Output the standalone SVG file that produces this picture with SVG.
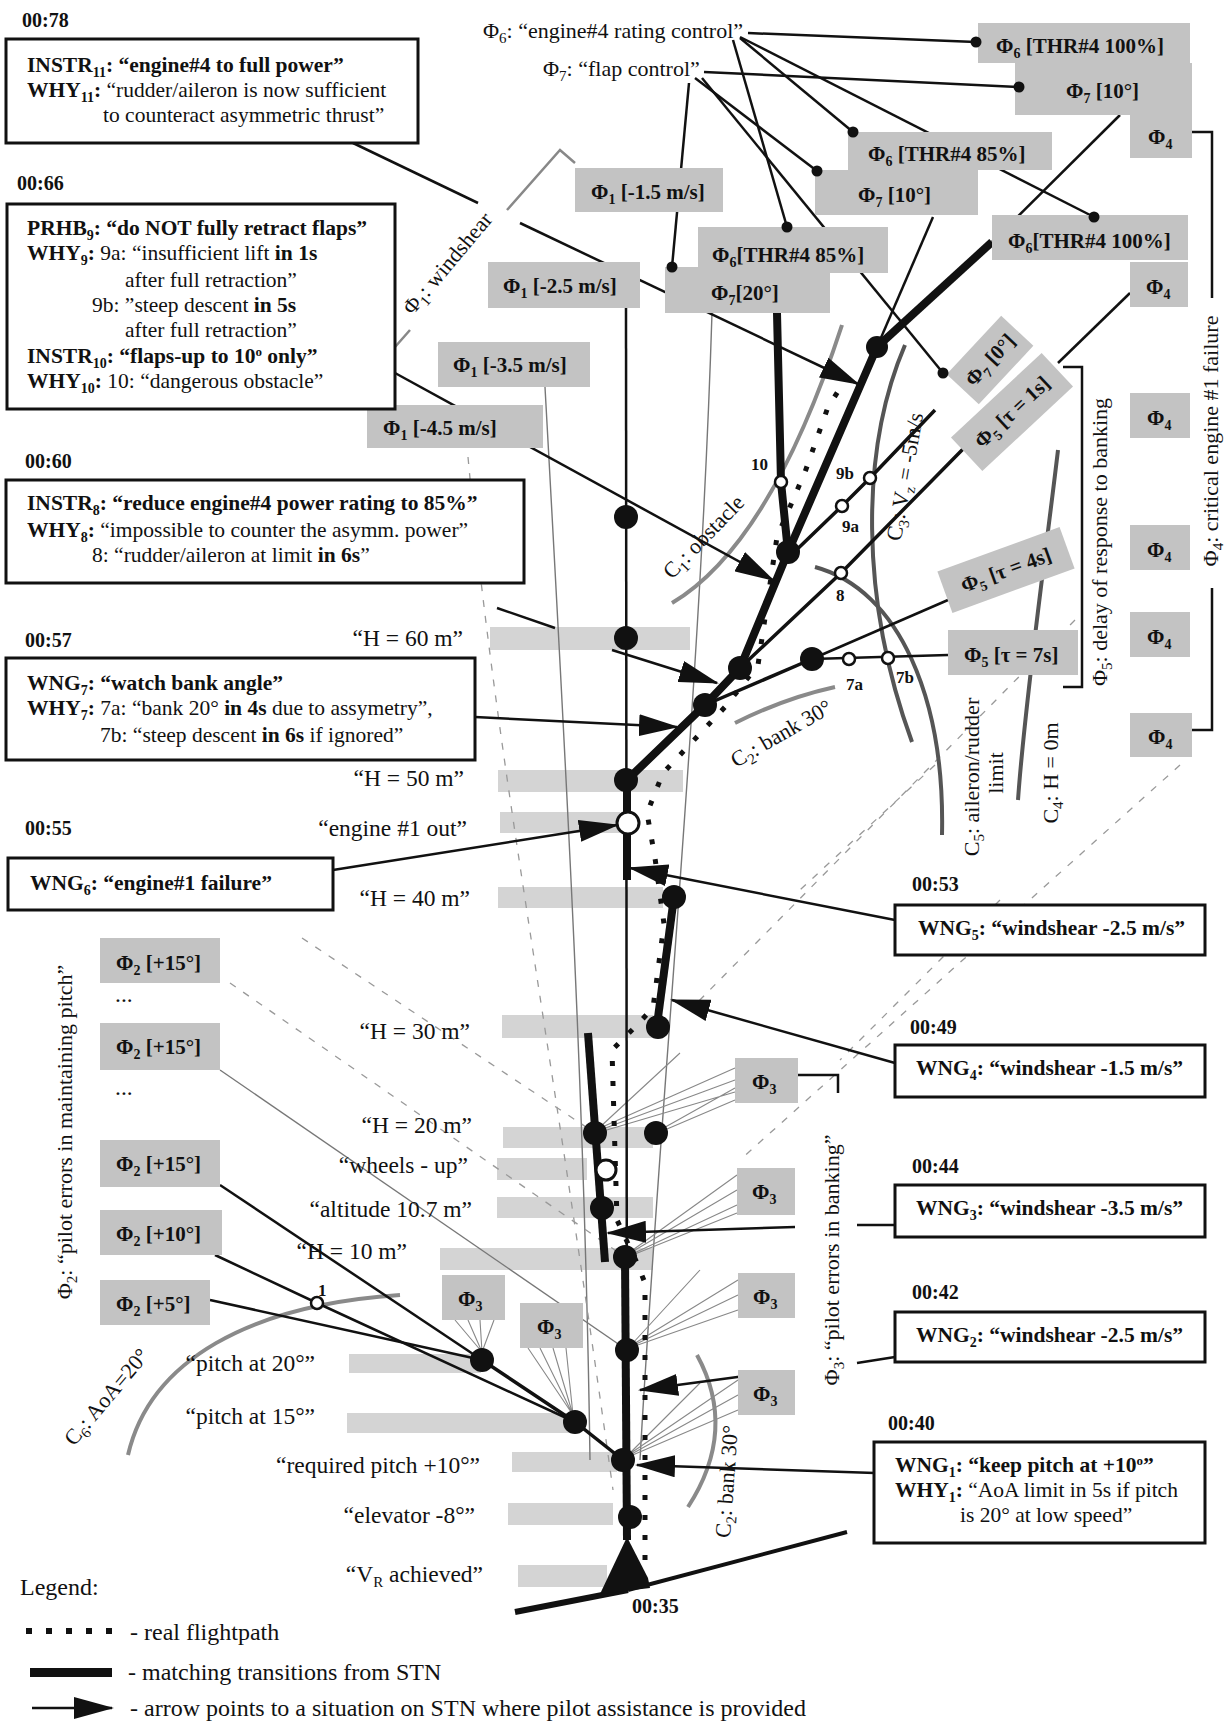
<svg xmlns="http://www.w3.org/2000/svg" width="1225" height="1722" viewBox="0 0 1225 1722">
<style>
.t{font-family:"Liberation Serif","Times New Roman",serif;font-size:21.5px;fill:#111}
.b{font-weight:bold}
.st{font-family:"Liberation Serif","Times New Roman",serif;font-size:23.5px;fill:#111}
.fl{font-family:"Liberation Serif","Times New Roman",serif;font-size:22px;fill:#111}
.lg{font-family:"Liberation Serif","Times New Roman",serif;font-size:24px;fill:#111}
.tm{font-family:"Liberation Serif","Times New Roman",serif;font-size:20px;font-weight:bold;fill:#111}
.gl{font-family:"Liberation Serif","Times New Roman",serif;font-size:21px;font-weight:bold;fill:#111}
.sm{font-family:"Liberation Serif","Times New Roman",serif;font-size:17px;font-weight:bold;fill:#111}
.g{fill:#c3c3c3}
.bar{fill:#d4d4d4}
.box{fill:#fff;stroke:#111;stroke-width:3}
.ln{stroke:#111;stroke-width:2.5;fill:none}
.ln3{stroke:#111;stroke-width:3.5;fill:none}
.thk{stroke:#111;stroke-width:8;fill:none}
.thin{stroke:#777;stroke-width:1.4;fill:none}
.fan{stroke:#888;stroke-width:1.1;fill:none}
.dash{stroke:#999;stroke-width:1.3;fill:none;stroke-dasharray:7 9}
.crv{stroke:#8a8a8a;stroke-width:4;fill:none}
.crvd{stroke:#555;stroke-width:4;fill:none}
.fp{stroke:#111;stroke-width:5;fill:none;stroke-dasharray:5 15}
.nd{fill:#111}
.wn{fill:#fff;stroke:#111;stroke-width:3}
.wn2{fill:#fff;stroke:#111;stroke-width:2.5}
</style>
<defs>
<marker id="ah" viewBox="0 0 40 22" refX="38" refY="11" markerWidth="40" markerHeight="22" markerUnits="userSpaceOnUse" orient="auto"><path d="M0,0 L40,11 L0,22 z" fill="#111"/></marker>
</defs>
<rect width="1225" height="1722" fill="#fff"/>

<!-- label bars -->
<g id="bars">
<rect class="bar" x="490" y="627" width="200" height="23"/>
<rect class="bar" x="498" y="770" width="185" height="22"/>
<rect class="bar" x="500" y="812" width="120" height="21"/>
<rect class="bar" x="498" y="887" width="165" height="21"/>
<rect class="bar" x="502" y="1015" width="151" height="23"/>
<rect class="bar" x="503" y="1127" width="150" height="21"/>
<rect class="bar" x="497" y="1158" width="90" height="22"/>
<rect class="bar" x="497" y="1197" width="156" height="21"/>
<rect class="bar" x="440" y="1248" width="213" height="22"/>
<rect class="bar" x="349" y="1354" width="132" height="19"/>
<rect class="bar" x="347" y="1413" width="226" height="20"/>
<rect class="bar" x="512" y="1452" width="105" height="20"/>
<rect class="bar" x="508" y="1503" width="105" height="22"/>
<rect class="bar" x="518" y="1565" width="89" height="22"/>
</g>

<!-- faint envelope lines -->
<g id="faint">
<path class="thin" d="M545,387 C565,750 585,1100 590,1460"/>
<path class="thin" d="M712,313 C700,700 660,1100 640,1460"/>
<path class="dash" d="M468,457 C495,750 545,1000 613,1490"/>
<path class="dash" d="M302,938 L595,1133"/>
<path class="dash" d="M230,983 L625,1257"/>
<path class="dash" d="M1180,765 L740,1160"/>
<path class="dash" d="M1075,620 L690,1010"/>
<path class="dash" d="M935,765 L800,890"/>
<path class="dash" d="M1000,900 L840,1060"/>
<path class="thin" d="M220,1070 L627,1350"/>
<path class="fan" d="M735,1068 L600,1128 M735,1080 L600,1130 M735,1092 L600,1132 M680,1053 L600,1127 M735,1088 L660,1130 M735,1100 L660,1132"/>
<path class="fan" d="M737,1175 L630,1252 M737,1190 L630,1253 M737,1205 L630,1255 M737,1213 L630,1256"/>
<path class="fan" d="M738,1280 L632,1345 M738,1295 L632,1346 M738,1310 L632,1347 M700,1270 L632,1344"/>
<path class="fan" d="M738,1380 L628,1455 M738,1395 L628,1456 M738,1410 L628,1457 M700,1383 L628,1455"/>
<path class="fan" d="M455,1320 L482,1352 M468,1320 L482,1352 M480,1320 L482,1352 M494,1320 L482,1352"/>
<path class="fan" d="M528,1348 L573,1415 M540,1348 L573,1415 M553,1348 L573,1415 M566,1348 L573,1415"/>
</g>

<!-- constraint curves -->
<g id="curves">
<path class="crv" stroke="#a0a0a0" d="M672,603 Q770,545 842,325"/>
<path class="crv" d="M735,723 Q785,698 835,687"/>
<path class="crvd" d="M905,345 C860,450 860,600 912,742"/>
<path class="crvd" d="M815,567 C900,590 945,700 942,835"/>
<path class="crvd" d="M1058,450 C1045,560 1025,700 1018,800"/>
<path class="crv" stroke-width="5" d="M128,1455 C150,1360 250,1305 400,1295"/>
<path class="crv" d="M697,1355 Q738,1430 688,1507"/>
</g>

<!-- connectors -->
<g id="connectors">
<path class="ln" d="M748,33 L976,42"/>
<path class="ln" d="M740,38 L853,132"/>
<path class="ln" d="M733,40 L787,227"/>
<path class="ln" d="M740,37 L1094,217"/>
<path class="ln" d="M704,72 L1019,87"/>
<path class="ln" d="M695,78 L817,171"/>
<path class="ln" d="M689,83 L672,267"/>
<path class="ln" d="M702,78 L943,373"/>
<path stroke="#888" stroke-width="2.5" fill="none" d="M395,347 L410,330 M507,210 L560,150 L575,163"/>
<path class="ln" d="M353,143 L478,203"/>
<path class="ln" marker-end="url(#ah)" d="M520,223 L858,384"/>
<path class="ln" marker-end="url(#ah)" d="M395,373 L773,580"/>
<path class="ln" d="M497,608 L555,628"/>
<path class="ln" marker-end="url(#ah)" d="M612,650 L717,683"/>
<path class="ln" marker-end="url(#ah)" d="M475,717 L677,727"/>
<path class="ln" marker-end="url(#ah)" d="M333,870 L617,825"/>
<path class="ln" marker-end="url(#ah)" d="M895,920 L630,868"/>
<path class="ln" marker-end="url(#ah)" d="M895,1063 L672,1000"/>
<path class="ln" d="M895,1225 L857,1225"/>
<path class="ln" marker-end="url(#ah)" d="M795,1227 L608,1233"/>
<path class="ln" d="M895,1357 L857,1363"/>
<path class="ln" marker-end="url(#ah)" d="M760,1374 L640,1390"/>
<path class="ln" marker-end="url(#ah)" d="M875,1473 L637,1465"/>
<path class="ln" d="M210,1300 L482,1360"/>
<path class="ln" d="M215,1255 L317,1303 L575,1422"/>
<path class="ln" d="M220,1185 L482,1360"/>
<path class="ln3" d="M482,1360 L575,1422 L623,1460"/>
<path class="ln" d="M626,308 L627,1540"/>
<path class="ln3" d="M705,705 L812,659"/>
<path class="ln3" d="M740,668 L841,573 L965,447"/>
<path class="ln3" d="M786,560 L842,506 L870,478 L935,410"/>
<path class="ln" stroke-width="5" d="M812,659 L948,600"/>
<path class="ln" stroke-width="4" d="M812,659 L948,655"/>
<path class="ln" stroke-width="3" d="M933,217 L877,347"/>
<path class="ln" stroke-width="4" d="M1130,293 L1058,363"/>
<path class="ln" stroke-width="4" d="M992,242 L1120,115"/>
<path class="ln" d="M1192,132 L1212,132 L1212,298 M1212,588 L1212,730 L1192,730"/>
<path class="ln" d="M1063,367 L1082,367 L1082,687 L1063,687"/>
<path class="ln" d="M798,1075 L838,1075 L838,1093"/>
<path stroke="#111" stroke-width="6" fill="none" d="M515,1612 L628,1590"/>
<path stroke="#111" stroke-width="4" fill="none" d="M628,1590 L847,1532"/>
<path class="nd" d="M627,1537 L648,1578 L650,1588 L600,1594 z"/>
</g>

<!-- matching transitions (thick) -->
<g id="stn-path">
<path class="thk" d="M627,1540 L625,1257"/>
<path class="thk" d="M605,1262 L588,1033"/>
<path class="thk" d="M657,1025 L674,897"/>
<path class="thk" d="M627,880 L627,780"/>
<path class="thk" stroke-width="9" d="M627,780 L705,705 L740,668 L788,552 L877,347"/>
<path class="thk" stroke-width="12" d="M877,347 L992,242"/>
<path class="thk" stroke-width="6" d="M777,313 L781,482 L788,552"/>
</g>

<!-- real flightpath -->
<path class="fp" id="flightpath" d="M645,1560 L645,1283 L637,1263 L617,1220 L612,1050 L632,1030 L653,1008 L664,924 L655,858 L647,813 L663,773 L725,707 L758,665 L777,537 L805,472 L828,407 L855,365"/>

<!-- gray factor boxes -->
<g id="phi-boxes">
<g id="p6a"><rect class="g" x="978" y="23" width="212" height="40"/><text class="gl" x="996" y="53">Φ<tspan font-size="14" dy="5">6</tspan><tspan dy="-5"> [THR#4  100%]</tspan></text></g>
<g id="p7a"><rect class="g" x="1015" y="63" width="177" height="52"/><text class="gl" x="1066" y="98">Φ<tspan font-size="14" dy="5">7</tspan><tspan dy="-5"> [10°]</tspan></text></g>
<g id="p4a"><rect class="g" x="1130" y="113" width="62" height="45"/><text class="gl" x="1148" y="144">Φ<tspan font-size="14" dy="5">4</tspan></text></g>
<g id="p6b"><rect class="g" x="848" y="132" width="204" height="38"/><text class="gl" x="868" y="161">Φ<tspan font-size="14" dy="5">6</tspan><tspan dy="-5"> [THR#4  85%]</tspan></text></g>
<g id="p7b"><rect class="g" x="815" y="170" width="163" height="45"/><text class="gl" x="858" y="202">Φ<tspan font-size="14" dy="5">7</tspan><tspan dy="-5"> [10°]</tspan></text></g>
<g id="p1a"><rect class="g" x="575" y="168" width="148" height="44"/><text class="gl" x="591" y="199">Φ<tspan font-size="14" dy="5">1</tspan><tspan dy="-5"> [-1.5 m/s]</tspan></text></g>
<g id="p6c"><rect class="g" x="698" y="227" width="190" height="46"/><text class="gl" x="712" y="262">Φ<tspan font-size="14" dy="5">6</tspan><tspan dy="-5">[THR#4  85%]</tspan></text></g>
<g id="p7c"><rect class="g" x="665" y="267" width="165" height="46"/><text class="gl" x="711" y="300">Φ<tspan font-size="14" dy="5">7</tspan><tspan dy="-5">[20°]</tspan></text></g>
<g id="p6d"><rect class="g" x="992" y="215" width="196" height="45"/><text class="gl" x="1008" y="248">Φ<tspan font-size="14" dy="5">6</tspan><tspan dy="-5">[THR#4 100%]</tspan></text></g>
<g id="p4b"><rect class="g" x="1130" y="262" width="58" height="45"/><text class="gl" x="1146" y="294">Φ<tspan font-size="14" dy="5">4</tspan></text></g>
<g id="p1b"><rect class="g" x="488" y="262" width="152" height="46"/><text class="gl" x="503" y="293">Φ<tspan font-size="14" dy="5">1</tspan><tspan dy="-5"> [-2.5 m/s]</tspan></text></g>
<g id="p1c"><rect class="g" x="438" y="342" width="152" height="45"/><text class="gl" x="453" y="372">Φ<tspan font-size="14" dy="5">1</tspan><tspan dy="-5"> [-3.5 m/s]</tspan></text></g>
<g id="p1d"><rect class="g" x="367" y="405" width="176" height="43"/><text class="gl" x="383" y="435">Φ<tspan font-size="14" dy="5">1</tspan><tspan dy="-5"> [-4.5 m/s]</tspan></text></g>
<g id="p7d" transform="translate(990,360) rotate(-47)"><rect class="g" x="-40" y="-22" width="80" height="44"/><text class="gl" x="0" y="7" text-anchor="middle">Φ<tspan font-size="14" dy="5">7</tspan><tspan dy="-5"> [0°]</tspan></text></g>
<g id="p5a" transform="translate(1012,412) rotate(-43)"><rect class="g" x="-62" y="-23" width="124" height="46"/><text class="gl" x="0" y="7" text-anchor="middle">Φ<tspan font-size="14" dy="5">5</tspan><tspan dy="-5"> [τ = 1s]</tspan></text></g>
<g id="p4c"><rect class="g" x="1130" y="393" width="60" height="45"/><text class="gl" x="1147" y="425">Φ<tspan font-size="14" dy="5">4</tspan></text></g>
<g id="p5b" transform="translate(1006,570) rotate(-20)"><rect class="g" x="-65" y="-22" width="130" height="44"/><text class="gl" x="0" y="7" text-anchor="middle">Φ<tspan font-size="14" dy="5">5</tspan><tspan dy="-5"> [τ = 4s]</tspan></text></g>
<g id="p4d"><rect class="g" x="1130" y="525" width="60" height="45"/><text class="gl" x="1147" y="557">Φ<tspan font-size="14" dy="5">4</tspan></text></g>
<g id="p5c"><rect class="g" x="948" y="630" width="130" height="45"/><text class="gl" x="964" y="662">Φ<tspan font-size="14" dy="5">5</tspan><tspan dy="-5"> [τ = 7s]</tspan></text></g>
<g id="p4e"><rect class="g" x="1130" y="612" width="60" height="45"/><text class="gl" x="1147" y="644">Φ<tspan font-size="14" dy="5">4</tspan></text></g>
<g id="p4f"><rect class="g" x="1130" y="713" width="62" height="44"/><text class="gl" x="1148" y="744">Φ<tspan font-size="14" dy="5">4</tspan></text></g>
<g id="p2a"><rect class="g" x="100" y="938" width="120" height="45"/><text class="gl" x="116" y="970">Φ<tspan font-size="14" dy="5">2</tspan><tspan dy="-5"> [+15°]</tspan></text></g>
<g id="p2b"><rect class="g" x="100" y="1023" width="120" height="47"/><text class="gl" x="116" y="1054">Φ<tspan font-size="14" dy="5">2</tspan><tspan dy="-5"> [+15°]</tspan></text></g>
<g id="p2c"><rect class="g" x="100" y="1140" width="120" height="47"/><text class="gl" x="116" y="1171">Φ<tspan font-size="14" dy="5">2</tspan><tspan dy="-5"> [+15°]</tspan></text></g>
<g id="p2d"><rect class="g" x="100" y="1210" width="122" height="45"/><text class="gl" x="116" y="1241">Φ<tspan font-size="14" dy="5">2</tspan><tspan dy="-5"> [+10°]</tspan></text></g>
<g id="p2e"><rect class="g" x="100" y="1280" width="110" height="45"/><text class="gl" x="116" y="1311">Φ<tspan font-size="14" dy="5">2</tspan><tspan dy="-5"> [+5°]</tspan></text></g>
<g id="p3a"><rect class="g" x="735" y="1058" width="63" height="45"/><text class="gl" x="752" y="1089">Φ<tspan font-size="14" dy="5">3</tspan></text></g>
<g id="p3b"><rect class="g" x="737" y="1168" width="58" height="47"/><text class="gl" x="752" y="1199">Φ<tspan font-size="14" dy="5">3</tspan></text></g>
<g id="p3c"><rect class="g" x="738" y="1273" width="57" height="45"/><text class="gl" x="753" y="1304">Φ<tspan font-size="14" dy="5">3</tspan></text></g>
<g id="p3d"><rect class="g" x="738" y="1370" width="57" height="45"/><text class="gl" x="753" y="1401">Φ<tspan font-size="14" dy="5">3</tspan></text></g>
<g id="p3e"><rect class="g" x="442" y="1275" width="63" height="45"/><text class="gl" x="458" y="1306">Φ<tspan font-size="14" dy="5">3</tspan></text></g>
<g id="p3f"><rect class="g" x="520" y="1303" width="63" height="45"/><text class="gl" x="537" y="1334">Φ<tspan font-size="14" dy="5">3</tspan></text></g>
</g>

<!-- selector dots -->
<g id="sel-dots" class="nd">
<circle cx="976" cy="42" r="5.5"/><circle cx="853" cy="132" r="5.5"/><circle cx="787" cy="227" r="5.5"/><circle cx="1094" cy="217" r="5.5"/>
<circle cx="1019" cy="87" r="5.5"/><circle cx="817" cy="171" r="5.5"/><circle cx="672" cy="267" r="5.5"/><circle cx="943" cy="373" r="5.5"/>
</g>

<!-- STN nodes -->
<g id="nodes">
<circle class="nd" cx="626" cy="517" r="12"/>
<circle class="nd" cx="626" cy="638" r="12"/>
<circle class="nd" cx="626" cy="780" r="12"/>
<circle class="nd" cx="705" cy="705" r="12"/>
<circle class="nd" cx="740" cy="668" r="12"/>
<circle class="nd" cx="788" cy="552" r="12"/>
<circle class="nd" cx="877" cy="347" r="11"/>
<circle class="nd" cx="812" cy="659" r="12"/>
<circle class="nd" cx="674" cy="897" r="12"/>
<circle class="nd" cx="658" cy="1027" r="12"/>
<circle class="nd" cx="656" cy="1133" r="12"/>
<circle class="nd" cx="595" cy="1133" r="12"/>
<circle class="nd" cx="602" cy="1208" r="12"/>
<circle class="nd" cx="625" cy="1257" r="12"/>
<circle class="nd" cx="627" cy="1350" r="12"/>
<circle class="nd" cx="623" cy="1460" r="12"/>
<circle class="nd" cx="630" cy="1517" r="12"/>
<circle class="nd" cx="482" cy="1360" r="12"/>
<circle class="nd" cx="575" cy="1422" r="12"/>
<circle class="wn" cx="628" cy="823" r="11"/>
<circle class="wn" cx="606" cy="1170" r="10"/>
<circle class="wn2" cx="781" cy="482" r="6"/>
<circle class="wn2" cx="842" cy="506" r="6"/>
<circle class="wn2" cx="870" cy="478" r="6"/>
<circle class="wn2" cx="841" cy="573" r="6"/>
<circle class="wn2" cx="849" cy="659" r="6"/>
<circle class="wn2" cx="888" cy="658" r="6"/>
<circle class="wn2" cx="317" cy="1303" r="6"/>
<text class="sm" x="751" y="470">10</text>
<text class="sm" x="836" y="479">9b</text>
<text class="sm" x="842" y="532">9a</text>
<text class="sm" x="836" y="601">8</text>
<text class="sm" x="846" y="690">7a</text>
<text class="sm" x="896" y="683">7b</text>
<text class="sm" x="318" y="1296">1</text>
</g>

<!-- altitude / state labels -->
<g id="state-labels" class="st" text-anchor="end">
<text x="463" y="646">“H = 60 m”</text>
<text x="464" y="786">“H = 50 m”</text>
<text x="467" y="836">“engine #1 out”</text>
<text x="470" y="906">“H = 40 m”</text>
<text x="470" y="1039">“H = 30 m”</text>
<text x="472" y="1133">“H = 20 m”</text>
<text x="468" y="1173">“wheels - up”</text>
<text x="472" y="1217">“altitude 10.7 m”</text>
<text x="407" y="1259">“H = 10 m”</text>
<text x="315" y="1371">“pitch at 20°”</text>
<text x="315" y="1424">“pitch at 15°”</text>
<text x="480" y="1473">“required pitch +10°”</text>
<text x="475" y="1523">“elevator  -8°”</text>
<text x="483" y="1582">“V<tspan font-size="15" dy="5">R</tspan><tspan dy="-5"> achieved”</tspan></text>
</g>
<g class="st"><text x="115" y="1002">...</text><text x="115" y="1095">...</text></g>

<!-- factor and constraint labels -->
<g id="factor-labels" class="fl">
<text x="483" y="38">Φ<tspan font-size="15" dy="5">6</tspan><tspan dy="-5">:  “engine#4 rating control”</tspan></text>
<text x="543" y="76">Φ<tspan font-size="15" dy="5">7</tspan><tspan dy="-5">:  “flap control”</tspan></text>
<text transform="translate(453,268) rotate(-50)" text-anchor="middle">Φ<tspan font-size="15" dy="5">1</tspan><tspan dy="-5">: windshear</tspan></text>
<text transform="translate(672,580) rotate(-46)">C<tspan font-size="15" dy="5">1</tspan><tspan dy="-5">: obstacle</tspan></text>
<text transform="translate(736,768) rotate(-30)">C<tspan font-size="15" dy="5">2</tspan><tspan dy="-5">: bank 30°</tspan></text>
<text transform="translate(912,478) rotate(-80)" text-anchor="middle">C<tspan font-size="15" dy="5">3</tspan><tspan dy="-5">: V</tspan><tspan font-size="15" dy="5">z</tspan><tspan dy="-5"> = -5m/s</tspan></text>
<text transform="translate(979,777) rotate(-90)" text-anchor="middle">C<tspan font-size="15" dy="5">5</tspan><tspan dy="-5">: aileron/rudder</tspan></text>
<text transform="translate(1003,773) rotate(-90)" text-anchor="middle">limit</text>
<text transform="translate(1058,773) rotate(-90)" text-anchor="middle">C<tspan font-size="15" dy="5">4</tspan><tspan dy="-5">: H = 0m</tspan></text>
<text transform="translate(74,1447) rotate(-50)">C<tspan font-size="15" dy="5">6</tspan><tspan dy="-5">: AoA=20°</tspan></text>
<text transform="translate(734,1482) rotate(-86)" text-anchor="middle">C<tspan font-size="15" dy="5">2</tspan><tspan dy="-5">: bank 30°</tspan></text>
<text transform="translate(72,1132) rotate(-90)" text-anchor="middle">Φ<tspan font-size="15" dy="5">2</tspan><tspan dy="-5">:  “pilot errors in maintaining pitch”</tspan></text>
<text transform="translate(839,1260) rotate(-90)" text-anchor="middle">Φ<tspan font-size="15" dy="5">3</tspan><tspan dy="-5">: “pilot errors in banking”</tspan></text>
<text transform="translate(1218,441) rotate(-90)" text-anchor="middle">Φ<tspan font-size="15" dy="5">4</tspan><tspan dy="-5">: critical  engine #1 failure</tspan></text>
<text transform="translate(1107,542) rotate(-90)" text-anchor="middle">Φ<tspan font-size="15" dy="5">5</tspan><tspan dy="-5">: delay of response to banking</tspan></text>
</g>

<!-- time stamps -->
<g id="times" class="tm">
<text x="22" y="27">00:78</text>
<text x="17" y="190">00:66</text>
<text x="25" y="468">00:60</text>
<text x="25" y="647">00:57</text>
<text x="25" y="835">00:55</text>
<text x="912" y="891">00:53</text>
<text x="910" y="1034">00:49</text>
<text x="912" y="1173">00:44</text>
<text x="912" y="1299">00:42</text>
<text x="888" y="1430">00:40</text>
<text x="632" y="1613">00:35</text>
</g>

<!-- advice boxes -->
<g id="box11"><rect class="box" x="6" y="39" width="412" height="104"/>
<text class="t b" x="27" y="72">INSTR<tspan font-size="14" dy="5">11</tspan><tspan dy="-5">: “engine#4 to full power”</tspan></text>
<text class="t" x="27" y="97"><tspan font-weight="bold">WHY<tspan font-size="14" dy="5">11</tspan><tspan dy="-5">:</tspan></tspan>  “rudder/aileron is now sufficient</text>
<text class="t" x="103" y="122">to counteract asymmetric thrust”</text>
</g>
<g id="box9"><rect class="box" x="7" y="204" width="388" height="205"/>
<text class="t b" x="27" y="235">PRHB<tspan font-size="14" dy="5">9</tspan><tspan dy="-5">: “do NOT fully retract flaps”</tspan></text>
<text class="t" x="27" y="260"><tspan font-weight="bold">WHY<tspan font-size="14" dy="5">9</tspan><tspan dy="-5">:</tspan></tspan> 9a: “insufficient lift <tspan font-weight="bold">in 1s</tspan></text>
<text class="t" x="125" y="287">after full retraction”</text>
<text class="t" x="92" y="312">9b: ”steep descent <tspan font-weight="bold">in 5s</tspan></text>
<text class="t" x="125" y="337">after full retraction”</text>
<text class="t b" x="27" y="363">INSTR<tspan font-size="14" dy="5">10</tspan><tspan dy="-5">: “flaps-up to 10</tspan><tspan font-size="13" dy="-7">o</tspan><tspan dy="7"> only”</tspan></text>
<text class="t" x="27" y="388"><tspan font-weight="bold">WHY<tspan font-size="14" dy="5">10</tspan><tspan dy="-5">:</tspan></tspan> 10: “dangerous obstacle”</text>
</g>
<g id="box8"><rect class="box" x="6" y="480" width="518" height="103"/>
<text class="t b" x="27" y="510">INSTR<tspan font-size="14" dy="5">8</tspan><tspan dy="-5">: “reduce engine#4 power rating to 85%”</tspan></text>
<text class="t" x="27" y="537"><tspan font-weight="bold">WHY<tspan font-size="14" dy="5">8</tspan><tspan dy="-5">:</tspan></tspan> “impossible to counter the asymm. power”</text>
<text class="t" x="92" y="562">8: “rudder/aileron at limit <tspan font-weight="bold">in 6s</tspan>”</text>
</g>
<g id="box7"><rect class="box" x="6" y="658" width="469" height="102"/>
<text class="t b" x="27" y="690">WNG<tspan font-size="14" dy="5">7</tspan><tspan dy="-5">: “watch bank angle”</tspan></text>
<text class="t" x="27" y="715"><tspan font-weight="bold">WHY<tspan font-size="14" dy="5">7</tspan><tspan dy="-5">:</tspan></tspan>  7a: “bank 20° <tspan font-weight="bold">in 4s</tspan> due to assymetry”,</text>
<text class="t" x="100" y="742">7b: “steep descent <tspan font-weight="bold">in 6s</tspan> if ignored”</text>
</g>
<g id="box6"><rect class="box" x="8" y="858" width="325" height="52"/>
<text class="t b" x="30" y="890">WNG<tspan font-size="14" dy="5">6</tspan><tspan dy="-5">: “engine#1 failure”</tspan></text>
</g>
<g id="box5"><rect class="box" x="895" y="905" width="310" height="50"/>
<text class="t b" x="918" y="935">WNG<tspan font-size="14" dy="5">5</tspan><tspan dy="-5">: “windshear -2.5 m/s”</tspan></text>
</g>
<g id="box4"><rect class="box" x="895" y="1045" width="310" height="52"/>
<text class="t b" x="916" y="1075">WNG<tspan font-size="14" dy="5">4</tspan><tspan dy="-5">: “windshear -1.5 m/s”</tspan></text>
</g>
<g id="box3"><rect class="box" x="895" y="1185" width="310" height="52"/>
<text class="t b" x="916" y="1215">WNG<tspan font-size="14" dy="5">3</tspan><tspan dy="-5">: “windshear -3.5 m/s”</tspan></text>
</g>
<g id="box2"><rect class="box" x="895" y="1312" width="310" height="50"/>
<text class="t b" x="916" y="1342">WNG<tspan font-size="14" dy="5">2</tspan><tspan dy="-5">: “windshear -2.5 m/s”</tspan></text>
</g>
<g id="box1"><rect class="box" x="874" y="1442" width="331" height="101"/>
<text class="t b" x="895" y="1472">WNG<tspan font-size="14" dy="5">1</tspan><tspan dy="-5">: “keep pitch at +10</tspan><tspan font-size="13" dy="-7">o</tspan><tspan dy="7">”</tspan></text>
<text class="t" x="895" y="1497"><tspan font-weight="bold">WHY<tspan font-size="14" dy="5">1</tspan><tspan dy="-5">:</tspan></tspan> “AoA limit in 5s if pitch</text>
<text class="t" x="960" y="1522">is 20°  at low speed”</text>
</g>

<!-- legend -->
<g id="legend">
<text class="lg" x="20" y="1595">Legend:</text>
<g class="nd"><rect x="26" y="1628" width="6" height="6"/><rect x="46" y="1628" width="6" height="6"/><rect x="66" y="1628" width="6" height="6"/><rect x="86" y="1628" width="6" height="6"/><rect x="106" y="1628" width="6" height="6"/></g>
<text class="lg" x="130" y="1640">- real flightpath</text>
<rect class="nd" x="30" y="1668" width="82" height="9"/>
<text class="lg" x="128" y="1680">- matching transitions from STN</text>
<path class="ln" marker-end="url(#ah)" d="M32,1708 L112,1708"/>
<text class="lg" x="130" y="1716">- arrow points to a situation on STN where pilot assistance is provided</text>
</g>
</svg>
